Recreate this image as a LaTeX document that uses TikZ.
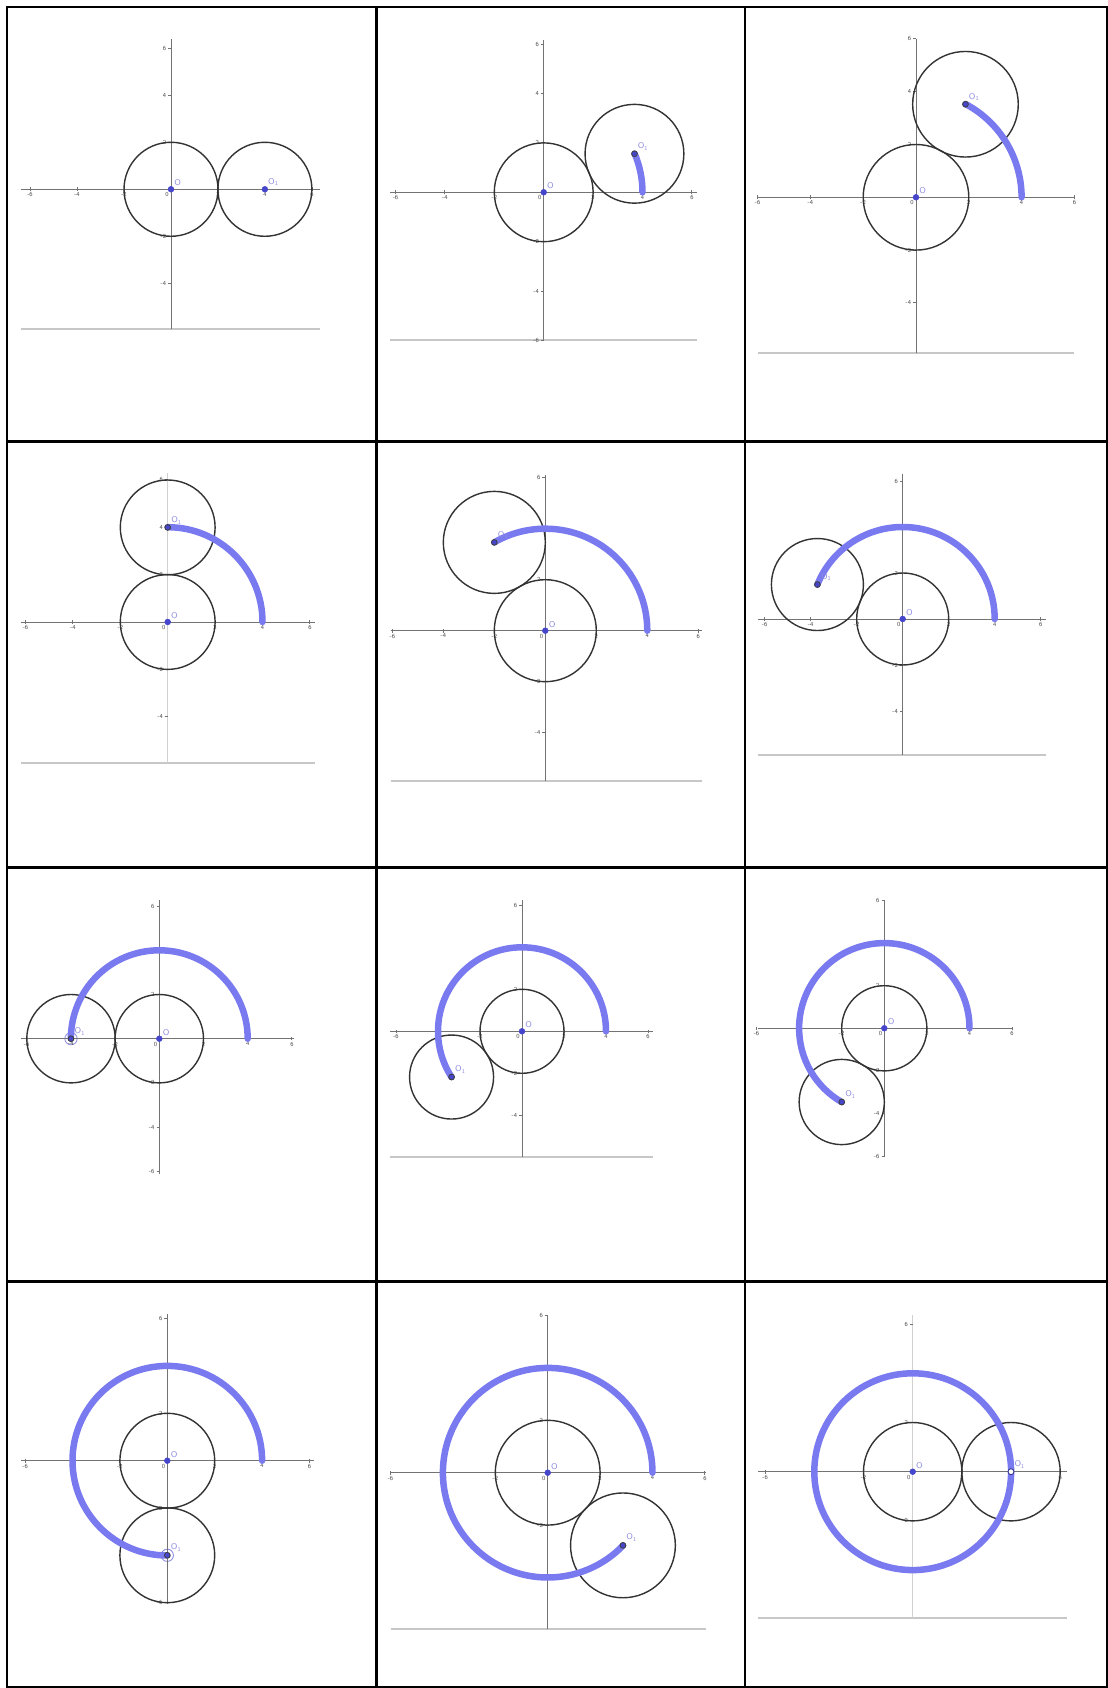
\documentclass[tikz,border=0pt]{standalone}
\usepackage{fontspec}
\usetikzlibrary{positioning}

\definecolor{tracecol}{RGB}{122,122,240}
\definecolor{dotcol}{RGB}{70,70,205}
\definecolor{labcol}{RGB}{140,140,225}

\tikzset{
  cellrule/.style={line width=1.2pt, black},
  xaxis/.style={line width=0.5pt, black!55},
  yaxis/.style={line width=0.5pt, black!55},
  faintaxis/.style={line width=0.5pt, black!18},
  viewline/.style={line width=1.1pt, black!22},
  wheel/.style={line width=0.8pt, black!80},
  trace/.style={line width=3.7pt, tracecol, line cap=round},
  ptdot/.style={circle, fill=dotcol, draw=dotcol, line width=0.3pt, inner sep=0pt, minimum size=3.3pt},
  odot/.style={ptdot, draw=black!75, line width=0.5pt},
  hollowdot/.style={circle, fill=white, draw=dotcol!70!black, line width=0.5pt, inner sep=0pt, minimum size=3.4pt},
  selring/.style={circle, draw=labcol, line width=0.5pt, inner sep=0pt, minimum size=7pt},
  ptlabel/.style={text=labcol, font=\sffamily\fontsize{4.8}{5}\selectfont, inner sep=0.5pt},
  ticklab/.style={text=black!70, font=\sffamily\fontsize{3.5}{3.5}\selectfont, inner sep=0.6pt},
}

% one frame: origin x, origin y (px from top), px per unit, angle,
% x from, x to, y top, y bottom, extra code
\newcommand\rollpanel[9]{%
  \begin{scope}[shift={(#1,{1688-#2})}, scale=#3]
    \def\pxl{#5}\def\pxr{#6}\def\pyb{#8}
    \coordinate (c0) at (0,0);
    \coordinate (c1) at (#4:4);
    #9
    \draw[xaxis] (#5,0) -- (#6,0);
    \draw[yaxis] (0,#8) -- (0,#7);
    \foreach \t in {-6,-4,-2,2,4,6} {
      \draw[xaxis] (\t,-0.08) -- (\t,0.08);
      \node[ticklab, below=1pt] (xt) at (\t,0) {\t};
      \pgfmathtruncatemacro\tshow{and(\t>=#8-0.02, \t<=#7+0.05)}
      \ifnum\tshow=1
        \draw[xaxis] (-0.12,\t) -- (0,\t);
        \node[ticklab, left=2pt] (yt) at (0,\t) {\t};
      \fi
    }
    \node[ticklab, below left=1pt and 0.5pt] (zt) at (c0) {0};
    \draw[wheel] (c0) circle[radius=2];
    \draw[wheel] (c1) circle[radius=2];
    \ifdim #4pt>0pt
      \draw[trace] (4,0) arc[start angle=0, end angle=#4, radius=4];
    \fi
    \node[ptdot] (O) at (c0) {};
    \node[odot] (O1) at (c1) {};
    \node[ptlabel, above right=0pt of O] (Olab) {O};
    \node[ptlabel, above right=0pt of O1] (O1lab) {O\textsubscript{1}};
  \end{scope}}

\newcommand\viewedge{\draw[viewline] (\pxl,\pyb) -- (\pxr,\pyb);}

\begin{document}
\begin{tikzpicture}[x=0.02cm, y=0.02cm]
  \useasboundingbox (0,0) rectangle (1108,1688);

  % table
  \draw[cellrule] (7,1) rectangle (1107,1681);
  \draw[cellrule] (376.5,1) -- (376.5,1681);
  \draw[cellrule] (745,1) -- (745,1681);
  \draw[cellrule] (7,1246.5) -- (1107,1246.5);
  \draw[cellrule] (7,820.5) -- (1107,820.5);
  \draw[cellrule] (7,406.5) -- (1107,406.5);

  % row 1
  \rollpanel{171}{189.3}{23.5}{0}{-6.4}{6.34}{6.38}{-5.96}{\viewedge
    \tikzset{odot/.style={ptdot}}}
  \rollpanel{543.7}{192.3}{24.7}{23}{-6.22}{6.19}{6.18}{-5.99}{\viewedge}
  \rollpanel{916}{197.3}{26.4}{62}{-6.0}{6.0}{6.0}{-5.9}{\viewedge}

  % row 2
  \rollpanel{167.7}{622}{23.7}{90}{-6.19}{6.22}{6.27}{-5.94}{\viewedge
    \tikzset{yaxis/.style={faintaxis}}}
  \rollpanel{545.3}{630.7}{25.5}{120}{-6.07}{6.16}{6.11}{-5.9}{\viewedge}
  \rollpanel{902.7}{619}{23}{158}{-6.29}{6.23}{6.29}{-5.91}{\viewedge}

  % row 3
  \rollpanel{159.3}{1038.7}{22.1}{180}{-6.26}{6.1}{6.29}{-6.12}{%
    \node[selring] (ring) at (c1) {};}
  \rollpanel{522}{1031.3}{21}{213}{-6.29}{6.22}{6.25}{-5.97}{\viewedge}
  \rollpanel{884.3}{1028.3}{21.3}{240}{-5.92}{6.0}{6.04}{-6.05}{}

  % row 4
  \rollpanel{167.3}{1460.7}{23.7}{270}{-6.17}{6.2}{6.18}{-6.05}{%
    \node[selring] (ring) at (c1) {};}
  \rollpanel{547.7}{1472.7}{26.2}{316}{-6.0}{6.05}{6.03}{-5.97}{\viewedge}
  \rollpanel{912.7}{1471.7}{24.6}{360}{-6.27}{6.28}{6.38}{-5.94}{\viewedge
    \tikzset{yaxis/.style={faintaxis}, odot/.style={hollowdot}}}
\end{tikzpicture}
\end{document}
